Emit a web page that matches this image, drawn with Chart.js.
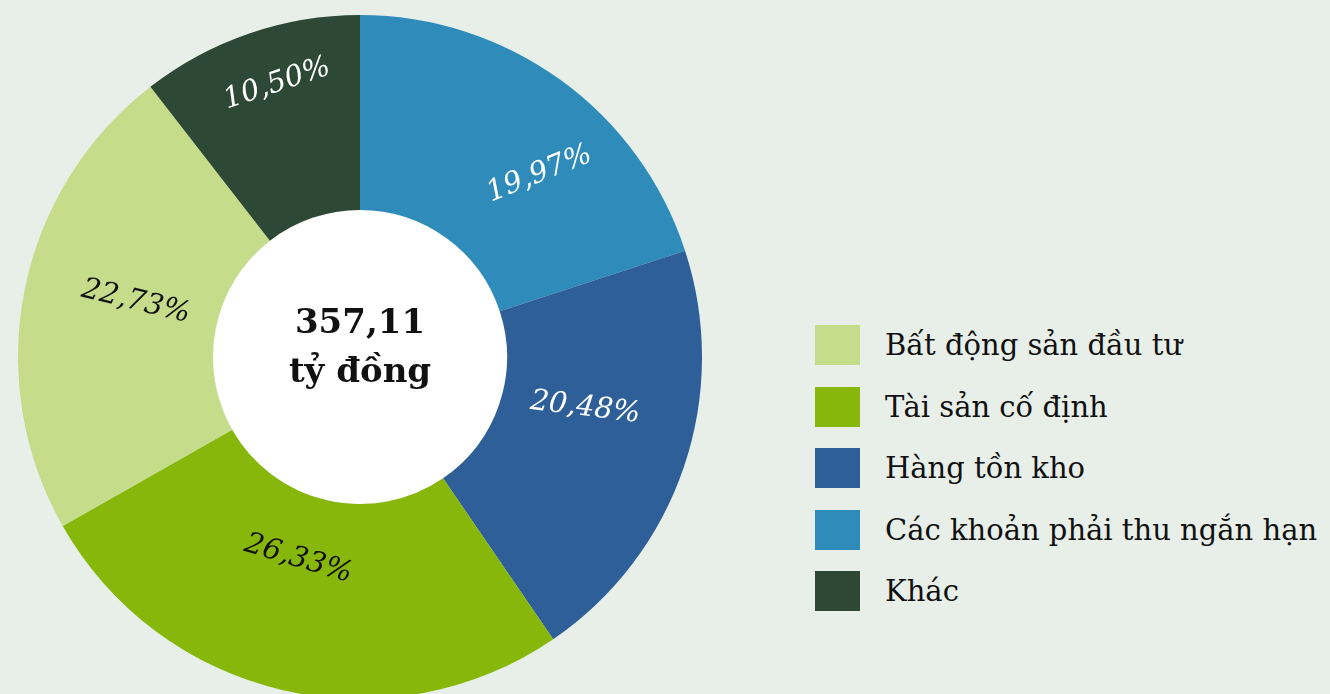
<!DOCTYPE html>
<html>
<head>
<meta charset="utf-8">
<script src="https://cdn.jsdelivr.net/npm/chart.js@4/dist/chart.umd.min.js"></script>
<style>
  html, body { margin: 0; padding: 0; width: 1330px; height: 694px; overflow: hidden; background: #e8efe9; }
  #pie { position: absolute; left: 18px; top: 15px; width: 684px; height: 684px; }
  #legend { position: absolute; left: 815px; top: 325px; font-family: "DejaVu Serif", serif; font-size: 29px; color: #111; }
  .row { display: flex; align-items: center; height: 40px; margin-bottom: 21.5px; white-space: nowrap; }
  .box { width: 45px; height: 40px; margin-right: 25px; }
</style>
</head>
<body>
<div id="pie"><canvas id="myChart"></canvas></div>
<div id="legend"></div>
<script>
// legend order
const categories = ['Bất động sản đầu tư', 'Tài sản cố định', 'Hàng tồn kho', 'Các khoản phải thu ngắn hạn', 'Khác'];
const shares = [22.73, 26.33, 20.48, 19.97, 10.50];
const colors = ['#c5dd8b', '#86b70a', '#2e5f98', '#2e8bba', '#2d4935'];
// clockwise from 12 o'clock
const drawOrder = [3, 2, 1, 0, 4];
const totalText = ['357,11', 'tỷ đồng'];

// label styling (per category, legend order)
const labelInk = ['#111', '#111', '#fff', '#fff', '#fff'];
const labelTilt = [13.6, 16.6, 7, -22, -18.6];
const labelShift = [2.5, 4, -6, 8.5, 2];
const labelDepth = [0.43, 0.33, 0.43, 0.56, 0.71];

const sliceLabels = {
  id: 'sliceLabels',
  afterDatasetsDraw(chart) {
    const ctx = chart.ctx;
    const meta = chart.getDatasetMeta(0);
    let cx = 0, cy = 0;
    meta.data.forEach((arc, k) => {
      const i = drawOrder[k];
      const p = arc.getProps(['x', 'y', 'startAngle', 'endAngle', 'innerRadius', 'outerRadius'], true);
      cx = p.x; cy = p.y;
      const mid = (p.startAngle + p.endAngle) / 2 + labelShift[i] * Math.PI / 180;
      const r = p.innerRadius + labelDepth[i] * (p.outerRadius - p.innerRadius);
      ctx.save();
      ctx.translate(p.x + r * Math.cos(mid), p.y + r * Math.sin(mid));
      ctx.rotate(labelTilt[i] * Math.PI / 180);
      ctx.font = 'italic 29px "DejaVu Serif"';
      ctx.fillStyle = labelInk[i];
      ctx.textAlign = 'center';
      ctx.textBaseline = 'middle';
      ctx.fillText(shares[i].toFixed(2).replace('.', ',') + '%', 0, 0);
      ctx.restore();
    });
    ctx.save();
    ctx.font = 'bold 34px "DejaVu Serif"';
    ctx.fillStyle = '#111';
    ctx.textAlign = 'center';
    ctx.textBaseline = 'alphabetic';
    ctx.fillText(totalText[0], cx, cy - 24);
    ctx.fillText(totalText[1], cx, cy + 25);
    ctx.restore();
  }
};

// white hole
const hole = {
  id: 'hole',
  beforeDatasetsDraw(chart) {
    const arc = chart.getDatasetMeta(0).data[0];
    if (!arc) return;
    const ctx = chart.ctx;
    ctx.save();
    ctx.fillStyle = '#ffffff';
    ctx.beginPath();
    ctx.arc(arc.x, arc.y, arc.innerRadius, 0, Math.PI * 2);
    ctx.fill();
    ctx.restore();
  }
};

var ctx = document.getElementById('myChart').getContext('2d');
var chart = new Chart(ctx, {
  type: 'doughnut',
  data: {
    labels: drawOrder.map(i => categories[i]),
    datasets: [{
      data: drawOrder.map(i => shares[i]),
      backgroundColor: drawOrder.map(i => colors[i]),
      borderWidth: 0
    }]
  },
  options: {
    responsive: true,
    maintainAspectRatio: false,
    animation: false,
    cutout: '43%',
    layout: { padding: 0 },
    plugins: { legend: { display: false }, tooltip: { enabled: false } }
  },
  plugins: [hole, sliceLabels]
});

// legend
var legend = document.getElementById('legend');
categories.forEach((name, i) => {
  var row = document.createElement('div');
  row.className = 'row';
  row.innerHTML = '<div class="box" style="background:' + colors[i] + '"></div><span>' + name + '</span>';
  legend.appendChild(row);
});
</script>
</body>
</html>
